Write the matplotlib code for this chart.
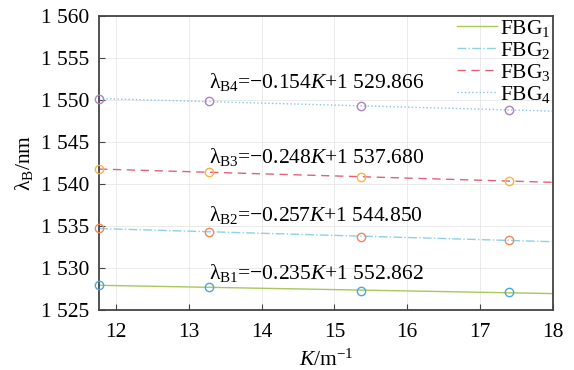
import numpy as np
import matplotlib
matplotlib.use('Agg')
import matplotlib.pyplot as plt
from matplotlib.ticker import FuncFormatter

plt.rcParams['font.family'] = ['Liberation Serif', 'DejaVu Serif']
plt.rcParams['mathtext.fontset'] = 'custom'
plt.rcParams['mathtext.rm'] = 'Liberation Serif'
plt.rcParams['mathtext.it'] = 'Liberation Serif:italic'

# measured points (curvature K, wavelength of each grating)
k_points = [11.77, 13.28, 15.37, 17.39]
fbg1 = [1527.97, 1527.70, 1527.30, 1527.10]
fbg2 = [1534.71, 1534.31, 1533.71, 1533.32]
fbg3 = [1541.76, 1541.37, 1540.85, 1540.33]
fbg4 = [1550.08, 1549.87, 1549.20, 1548.80]

labels = ['FBG$_1$', 'FBG$_2$', 'FBG$_3$', 'FBG$_4$']
equations = ['λ$_{\\mathrm{B1}}$=−0.235$K$+1 552.862',
             'λ$_{\\mathrm{B2}}$=−0.257$K$+1 544.850',
             'λ$_{\\mathrm{B3}}$=−0.248$K$+1 537.680',
             'λ$_{\\mathrm{B4}}$=−0.154$K$+1 529.866']
eq_y = [1529.4, 1536.3, 1543.2, 1552.1]

line_colors = ['#a8c85c', '#8fd0e6', '#e0637a', '#85c6ea']
line_styles = ['-', '-.', (0, (6, 4)), ':']
marker_colors = ['#4da6dc', '#f0875a', '#f6b545', '#b07fc8']

fig = plt.figure(figsize=(5.74, 3.70), dpi=100)
ax = fig.add_axes([0.1725, 0.162, 0.791, 0.796])

xs = np.array([11.77, 18.0])
for i, ys in enumerate([fbg1, fbg2, fbg3, fbg4]):
    slope, icpt = np.polyfit(k_points, ys, 1)
    ax.plot(xs, slope * xs + icpt, color=line_colors[i], ls=line_styles[i],
            lw=1.0, label=labels[i], zorder=2)
    ax.plot(k_points, ys, 'o', mfc='none', mec=marker_colors[i], ms=6,
            mew=1.0, zorder=3, clip_on=False)
    ax.text(13.28, eq_y[i], equations[i], fontsize=15.5, va='center', ha='left')

ax.set_xlim(11.77, 18)
ax.set_ylim(1525, 1560)
ax.set_xticks(range(12, 19))
ax.set_yticks(range(1525, 1561, 5))
ax.yaxis.set_major_formatter(FuncFormatter(lambda v, p: f'{int(v):,}'.replace(',', ' ')))
ax.tick_params(direction='in', labelsize=15.5, length=4, color='#444444',
               top=False, right=False)
ax.tick_params(axis='y', pad=7)
ax.tick_params(axis='x', pad=9)
ax.grid(True, color='#e6e6e6', lw=0.6)
for s in ax.spines.values():
    s.set_color('#444444')
    s.set_linewidth(1.3)

ax.set_xlabel('$K$/m$^{-1}$', fontsize=15.5, labelpad=6)
ax.set_ylabel('λ$_{\\mathrm{B}}$/nm', fontsize=15.5, labelpad=4)

ax.legend(loc='upper right', frameon=False, fontsize=15.5, handlelength=1.9,
          labelspacing=0.05, handletextpad=0.1, borderpad=0.0,
          borderaxespad=0.1)

fig.savefig('out.png', dpi=100)
